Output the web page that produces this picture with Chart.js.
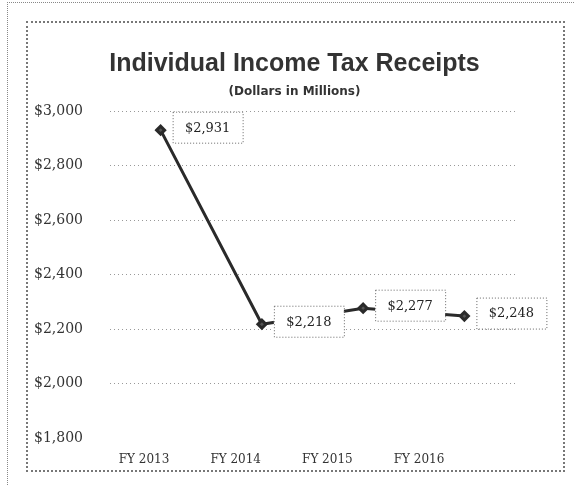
<!DOCTYPE html>
<html>
<head>
<meta charset="utf-8">
<script src="https://cdn.jsdelivr.net/npm/chart.js@4.4.0/dist/chart.umd.min.js"></script>
<style>
  html, body { margin: 0; padding: 0; background: #fff; }
  body { width: 574px; height: 486px; position: relative; overflow: hidden; }
  #outer { position: absolute; left: 7px; top: 2px; width: 580px; height: 500px;
           border-top: 1px dotted #888; border-left: 1px dotted #888; }
  #box { position: absolute; left: 26px; top: 21px; width: 535px; height: 447px;
         border: 2px dotted #777; }
  #box canvas { display: block; }
</style>
</head>
<body>
<div id="outer"></div>
<div id="box"><canvas id="taxChart" width="535" height="447"></canvas></div>
<script>
const years = ['FY 2013', 'FY 2014', 'FY 2015', 'FY 2016'];
const receipts = [2931, 2218, 2277, 2248];
const yTicks = [1800, 2000, 2200, 2400, 2600, 2800, 3000];

const serif = '"DejaVu Serif", "Liberation Serif", serif';
const sans = '"Liberation Sans", Arial, sans-serif';

function money(v) {
  return '$' + v.toLocaleString('en-US');
}

// boxed value labels to the right of each point
const boxLabels = {
  id: 'boxLabels',
  afterDatasetsDraw(chart) {
    const ctx = chart.ctx;
    const meta = chart.getDatasetMeta(0);
    ctx.save();
    ctx.font = '13px ' + serif;
    ctx.textAlign = 'center';
    ctx.textBaseline = 'middle';
    meta.data.forEach((pt, i) => {
      const w = 70, h = 31;
      const left = pt.x + 12;
      const top = pt.y - 3 - h / 2;
      ctx.fillStyle = '#fff';
      ctx.fillRect(left, top, w, h);
      ctx.setLineDash([1, 2]);
      ctx.strokeStyle = '#666';
      ctx.lineWidth = 1;
      ctx.strokeRect(left + 0.5, top + 0.5, w, h);
      ctx.fillStyle = '#222';
      ctx.fillText(money(receipts[i]), left + w / 2, top + h / 2 + 1);
    });
    ctx.restore();
  }
};

const ctx = document.getElementById('taxChart').getContext('2d');
new Chart(ctx, {
  type: 'line',
  data: {
    labels: years,
    datasets: [{
      data: receipts,
      borderColor: '#2a2a2a',
      borderWidth: 3,
      pointStyle: 'rectRot',
      pointRadius: 4,
      pointBackgroundColor: '#555',
      pointBorderColor: '#2a2a2a',
      tension: 0
    }]
  },
  options: {
    responsive: false,
    animation: false,
    layout: { padding: { left: 6, right: 8, top: 6, bottom: 0 } },
    scales: {
      x: {
        type: 'category',
        display: false,
        offset: true
      },
      xl: {
        type: 'linear',
        position: 'bottom',
        min: -0.371,
        max: 4.047,
        afterBuildTicks: axis => {
          axis.ticks = [0, 1, 2, 3].map(v => ({ value: v }));
        },
        afterFit: axis => { axis.height = 32; },
        grid: { display: false, drawTicks: false },
        border: { display: false },
        ticks: {
          color: '#333',
          font: { family: serif, size: 12 },
          padding: 15,
          maxRotation: 0,
          autoSkip: false,
          callback: v => years[v]
        }
      },
      y: {
        min: 1800,
        max: 3000,
        afterBuildTicks: axis => {
          axis.ticks = yTicks.map(v => ({ value: v }));
        },
        afterFit: axis => { axis.width = 76; },
        grid: {
          color: c => c.tick && c.tick.value === 1800 ? 'rgba(0,0,0,0)' : '#999',
          lineWidth: 1,
          drawTicks: false
        },
        border: { display: false, dash: [1, 3] },
        ticks: {
          color: '#333',
          font: { family: serif, size: 14 },
          crossAlign: 'far',
          padding: 10,
          callback: v => money(v)
        }
      },
      // empty right-hand gutter so the plot stops short of the frame
      yr: {
        position: 'right',
        min: 0,
        max: 1,
        afterFit: axis => { axis.width = 40; },
        grid: { display: false, drawTicks: false },
        border: { display: false },
        ticks: { display: false }
      }
    },
    plugins: {
      legend: { display: false },
      tooltip: { enabled: false },
      title: {
        display: true,
        text: 'Individual Income Tax Receipts',
        color: '#333',
        font: { family: sans, size: 25, weight: 'bold' },
        padding: { top: 20, bottom: 2 }
      },
      subtitle: {
        display: true,
        text: '(Dollars in Millions)',
        color: '#333',
        font: { family: '"DejaVu Sans", sans-serif', size: 12, weight: 'bold' },
        padding: { top: 4, bottom: 12 }
      }
    }
  },
  plugins: [boxLabels]
});
</script>
</body>
</html>
